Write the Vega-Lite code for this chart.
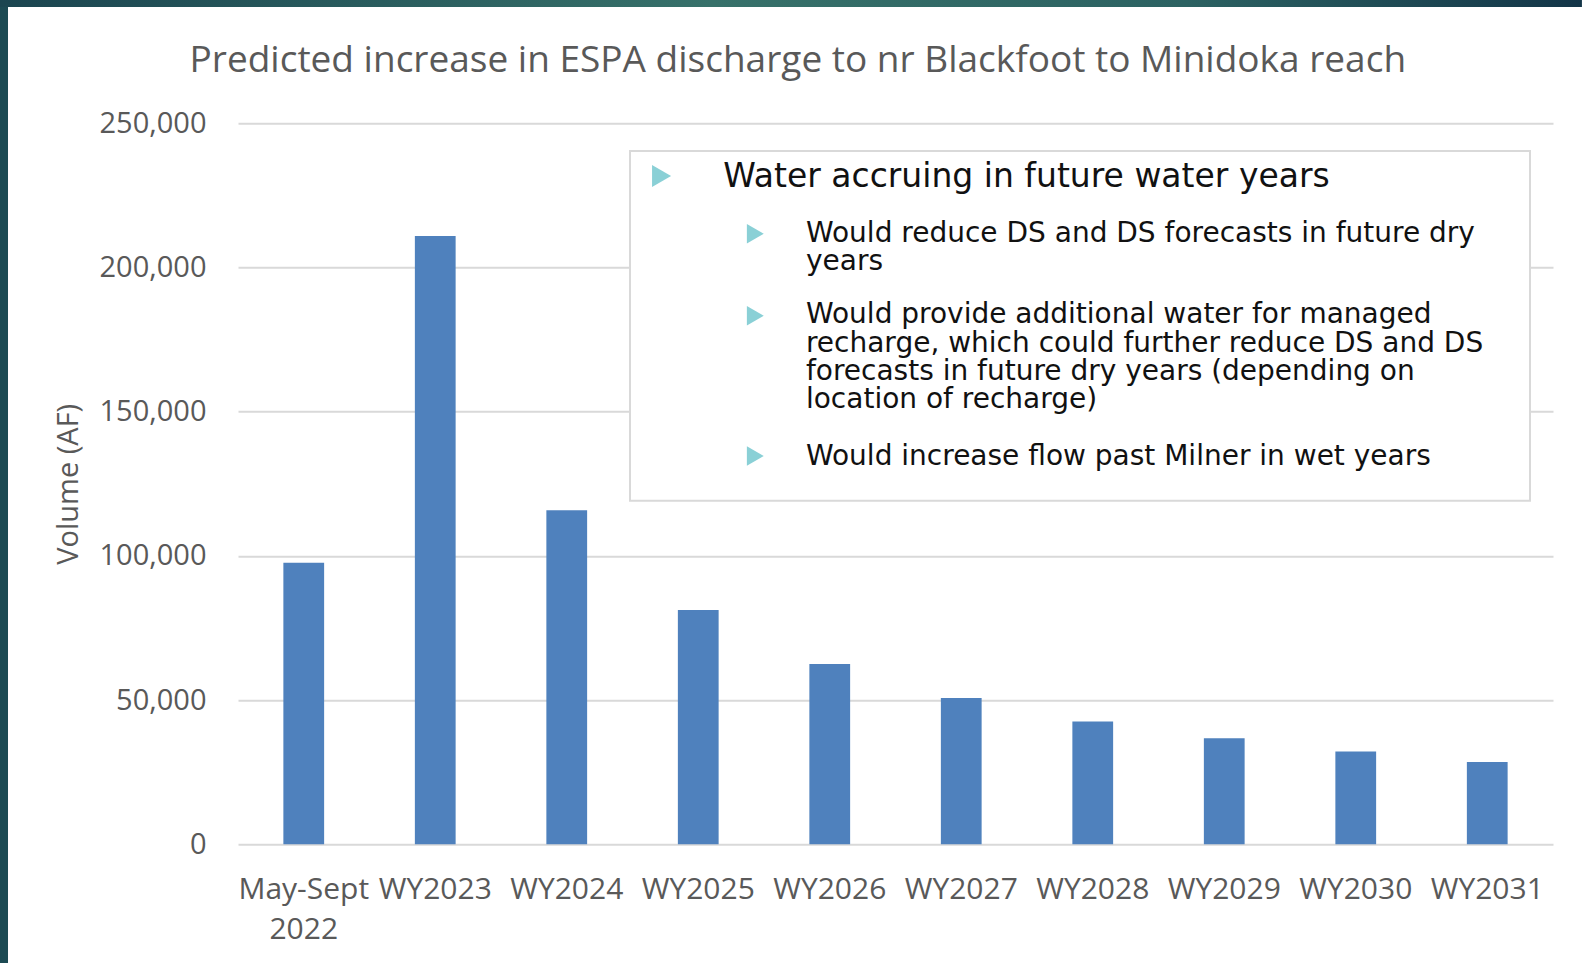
{
  "$schema": "https://vega.github.io/schema/vega-lite/v6.json",
  "width": 1315,
  "height": 721,
  "autosize": {"type": "none"},
  "padding": {"left": 238, "top": 123.3, "right": 29, "bottom": 118.7},
  "background": "white",
  "config": {
    "view": {"stroke": null},
    "axis": {"labelFont": "Open Sans", "titleFont": "Open Sans"}
  },
  "datasets": {
    "volumes": [
      {"period": "May-Sept 2022", "af": 97600},
      {"period": "WY2023", "af": 210900},
      {"period": "WY2024", "af": 115800},
      {"period": "WY2025", "af": 81200},
      {"period": "WY2026", "af": 62500},
      {"period": "WY2027", "af": 50700},
      {"period": "WY2028", "af": 42600},
      {"period": "WY2029", "af": 36800},
      {"period": "WY2030", "af": 32200},
      {"period": "WY2031", "af": 28500}
    ]
  },
  "resolve": {"scale": {"x": "independent"}, "axis": {"x": "independent"}},
  "layer": [
    {
      "data": {"name": "volumes"},
      "mark": {"type": "bar", "color": "#4f81bd"},
      "encoding": {
        "x": {
          "field": "period",
          "type": "nominal",
          "sort": null,
          "scale": {"paddingInner": 0.69, "paddingOuter": 0.345},
          "axis": {
            "title": null,
            "labelExpr": "split(datum.label, ' ')",
            "labelAngle": 0,
            "labelFontSize": 30,
            "labelColor": "#595959",
            "labelLineHeight": 40,
            "labelPadding": 30,
            "labelOverlap": false,
            "labelLimit": 400,
            "ticks": false,
            "domain": false,
            "grid": false
          }
        },
        "y": {
          "field": "af",
          "type": "quantitative",
          "scale": {"domain": [0, 250000], "nice": false},
          "axis": {
            "title": "Volume (AF)",
            "values": [0, 50000, 100000, 150000, 200000, 250000],
            "labelExpr": "format(datum.value, ',')",
            "grid": true,
            "gridColor": "#d9d9d9",
            "gridWidth": 2,
            "domain": false,
            "ticks": false,
            "labelPadding": 32,
            "labelFontSize": 29,
            "labelColor": "#595959",
            "titleFontSize": 29,
            "titleFontWeight": "normal",
            "titleColor": "#595959",
            "titlePadding": 16
          }
        }
      }
    },
    {
      "layer": [
        {
          "data": {"values": [{}]},
          "mark": {"type": "rect", "color": "#1c4a53"},
          "encoding": {
            "x": {"datum": -1.81, "type": "quantitative", "scale": {"domain": [0, 10], "nice": false, "zero": false}, "axis": null},
            "x2": {"datum": -1.749},
            "y": {"datum": -41200, "type": "quantitative"},
            "y2": {"datum": 292800}
          }
        },
        {
          "data": {"values": [{}]},
          "mark": {
            "type": "rect",
            "color": {
              "gradient": "linear",
              "x1": 0, "x2": 1, "y1": 0, "y2": 0,
              "stops": [
                {"offset": 0, "color": "#1b4550"},
                {"offset": 0.45, "color": "#37716a"},
                {"offset": 0.75, "color": "#2c6262"},
                {"offset": 1, "color": "#133548"}
              ]
            }
          },
          "encoding": {
            "x": {"datum": -1.81, "type": "quantitative", "axis": null},
            "x2": {"datum": 10.22},
            "y": {"datum": 290330, "type": "quantitative"},
            "y2": {"datum": 292800}
          }
        },
        {
          "data": {"values": [{"heading": "Predicted increase in ESPA discharge to nr Blackfoot to Minidoka reach"}]},
          "mark": {"type": "text", "align": "center", "baseline": "alphabetic", "font": "Open Sans", "fontSize": 37, "color": "#595959"},
          "encoding": {
            "x": {"datum": 4.257, "type": "quantitative", "axis": null},
            "y": {"datum": 267890, "type": "quantitative"},
            "text": {"field": "heading"}
          }
        },
        {
          "data": {"values": [{}]},
          "mark": {"type": "rect", "fill": "white", "stroke": "#d9d9d9", "strokeWidth": 2},
          "encoding": {
            "x": {"datum": 2.981, "type": "quantitative", "axis": null},
            "x2": {"datum": 9.825},
            "y": {"datum": 119140, "type": "quantitative"},
            "y2": {"datum": 240390}
          }
        },
        {
          "data": {"values": [{"level": "heading"}]},
          "mark": {"type": "point", "shape": "triangle-right", "filled": true, "opacity": 1, "size": 484, "color": "#8ad0d6"},
          "encoding": {
            "x": {"datum": 3.221, "type": "quantitative", "axis": null},
            "y": {"datum": 231727, "type": "quantitative"}
          }
        },
        {
          "data": {"values": [{"note": "Water accruing in future water years"}]},
          "mark": {"type": "text", "align": "left", "baseline": "alphabetic", "font": "DejaVu Sans", "fontSize": 33, "color": "#111111"},
          "encoding": {
            "x": {"datum": 3.69, "type": "quantitative", "axis": null},
            "y": {"datum": 228020, "type": "quantitative"},
            "text": {"field": "note"}
          }
        },
        {
          "data": {"values": [{"level": "point"}]},
          "mark": {"type": "point", "shape": "triangle-right", "filled": true, "opacity": 1, "size": 380, "color": "#8ad0d6"},
          "encoding": {
            "x": {"datum": 3.934, "type": "quantitative", "axis": null},
            "y": {"datum": 211720, "type": "quantitative"}
          }
        },
        {
          "data": {"values": [{"note": ["Would reduce DS and DS forecasts in future dry", "years"]}]},
          "mark": {"type": "text", "align": "left", "baseline": "alphabetic", "font": "DejaVu Sans", "fontSize": 28, "lineHeight": 28, "color": "#111111"},
          "encoding": {
            "x": {"datum": 4.319, "type": "quantitative", "axis": null},
            "y": {"datum": 208945, "type": "quantitative"},
            "text": {"field": "note"}
          }
        },
        {
          "data": {"values": [{"level": "point"}]},
          "mark": {"type": "point", "shape": "triangle-right", "filled": true, "opacity": 1, "size": 380, "color": "#8ad0d6"},
          "encoding": {
            "x": {"datum": 3.934, "type": "quantitative", "axis": null},
            "y": {"datum": 183252, "type": "quantitative"}
          }
        },
        {
          "data": {"values": [{"note": ["Would provide additional water for managed", "recharge, which could further reduce DS and DS", "forecasts in future dry years (depending on", "location of recharge)"]}]},
          "mark": {"type": "text", "align": "left", "baseline": "alphabetic", "font": "DejaVu Sans", "fontSize": 28, "lineHeight": 28.3, "color": "#111111"},
          "encoding": {
            "x": {"datum": 4.319, "type": "quantitative", "axis": null},
            "y": {"datum": 180652, "type": "quantitative"},
            "text": {"field": "note"}
          }
        },
        {
          "data": {"values": [{"level": "point"}]},
          "mark": {"type": "point", "shape": "triangle-right", "filled": true, "opacity": 1, "size": 380, "color": "#8ad0d6"},
          "encoding": {
            "x": {"datum": 3.934, "type": "quantitative", "axis": null},
            "y": {"datum": 134674, "type": "quantitative"}
          }
        },
        {
          "data": {"values": [{"note": "Would increase flow past Milner in wet years"}]},
          "mark": {"type": "text", "align": "left", "baseline": "alphabetic", "font": "DejaVu Sans", "fontSize": 28, "color": "#111111"},
          "encoding": {
            "x": {"datum": 4.319, "type": "quantitative", "axis": null},
            "y": {"datum": 131519, "type": "quantitative"},
            "text": {"field": "note"}
          }
        }
      ]
    }
  ]
}
